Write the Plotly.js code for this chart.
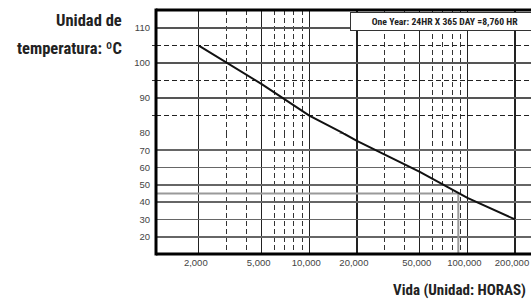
<!DOCTYPE html>
<html><head><meta charset="utf-8">
<script src="https://cdn.plot.ly/plotly-3.0.1.min.js"></script>
<style>html,body{margin:0;padding:0;background:#fff;}#chart{width:531px;height:302px;}</style>
</head><body><div id="chart"></div>
<script>
// ---- data ----
const lifeHours = [2000, 5000, 10000, 16300, 20000, 50000, 100000, 200000];
const temperatureC = [105, 94, 85, 80, 75.5, 57.5, 42.5, 30];

const hoursPerYear = 8760;
const markerYears = 10;
const markerTemp = 45;

const xMajorTicks = [2000, 5000, 10000, 20000, 50000, 100000, 200000];
const xTickLabels = ['2,000', '5,000', '10,000', '20,000', '50,000', '100,000', '200,000'];
const xMinorTicks = [3000, 4000, 6000, 7000, 8000, 9000, 30000, 40000, 60000, 70000, 80000, 90000];
const yUpperTicks = [90, 100, 110];
const yUpperMinor = [85, 95, 105];
const yLowerTicks = [20, 30, 40, 50, 60, 70, 80];

const yTitleLines = ['Unidad de', 'temperatura: ºC'];
const xTitle = 'Vida (Unidad: HORAS)';
const noteText = 'One Year: 24HR X 365 DAY =8,760 HR';

// ---- layout ----
const xRange = [3.0303, 5.4022];      // log10 range
const upperRange = [80, 115.2];
const lowerRange = [10, 80];
const split = 0.4959;

const condensed = '"Roboto Condensed", "Liberation Sans Narrow", Roboto, sans-serif';
const tickFont = {family: '"Liberation Sans", Arial, sans-serif', size: 9.5, color: '#444'};

const markerHours = hoursPerYear * markerYears;
const xLeft = Math.pow(10, xRange[0]);

const lineStyle = {color: '#111', width: 2};
const traces = [
  {x: [xLeft, markerHours, markerHours], y: [markerTemp, markerTemp, lowerRange[0]], xaxis: 'x', yaxis: 'y',
   mode: 'lines', line: {color: '#9a9a9a', width: 2}, hoverinfo: 'skip'},
  {x: lifeHours, y: temperatureC, xaxis: 'x', yaxis: 'y', mode: 'lines', line: lineStyle, hoverinfo: 'skip'},
  {x: lifeHours, y: temperatureC, xaxis: 'x', yaxis: 'y2', mode: 'lines', line: lineStyle, hoverinfo: 'skip'}
];

const layout = {
  width: 531, height: 302,
  margin: {l: 156, r: 0, t: 10, b: 48},
  paper_bgcolor: '#fff', plot_bgcolor: '#fff',
  showlegend: false,
  xaxis: {
    type: 'log', range: xRange, domain: [0, 1], anchor: 'y',
    tickmode: 'array', tickvals: xMajorTicks, ticktext: xTickLabels,
    tickfont: tickFont, ticks: '', ticklabelstandoff: 1, ticklabelshift: -3, ticklabeloverflow: 'allow',
    showgrid: true, gridcolor: '#222', gridwidth: 1.3,
    minor: {tickmode: 'array', tickvals: xMinorTicks, showgrid: true, gridcolor: '#333', gridwidth: 1, griddash: '5px,3px', ticks: ''},
    showline: false, zeroline: false, fixedrange: true
  },
  yaxis: {
    range: lowerRange, domain: [0, split], anchor: 'x',
    tickmode: 'array', tickvals: yLowerTicks, tickfont: tickFont, ticks: '', ticklabelstandoff: 5,
    showgrid: true, gridcolor: '#666', gridwidth: 1.8, showline: false, zeroline: false, fixedrange: true
  },
  yaxis2: {
    range: upperRange, domain: [split, 1], anchor: 'x',
    tickmode: 'array', tickvals: yUpperTicks, tickfont: tickFont, ticks: '', ticklabelstandoff: 5,
    showgrid: true, gridcolor: '#555', gridwidth: 1.8,
    minor: {tickmode: 'array', tickvals: yUpperMinor, showgrid: true, gridcolor: '#222', gridwidth: 1, griddash: '5px,3px', ticks: 'outside', ticklen: 3, tickcolor: '#333'},
    showline: false, zeroline: false, fixedrange: true
  },
  shapes: [
    {type: 'line', xref: 'paper', yref: 'paper', x0: 0, x1: 1.02, y0: 1, y1: 1, line: {color: '#000', width: 3}},
    {type: 'line', xref: 'paper', yref: 'paper', x0: 0, x1: 0, y0: -0.006, y1: 1.006, line: {color: '#000', width: 3}},
    {type: 'line', xref: 'paper', yref: 'paper', x0: 0, x1: 1.02, y0: 0, y1: 0, line: {color: '#000', width: 3}}
  ],
  annotations: [
    {text: '<b>' + yTitleLines[0] + '</b>', xref: 'paper', yref: 'paper', x: -0.085, y: 0.955, xanchor: 'right', yanchor: 'middle',
     showarrow: false, font: {family: condensed, size: 16.5, color: '#222'}},
    {text: '<b>' + yTitleLines[1] + '</b>', xref: 'paper', yref: 'paper', x: -0.085, y: 0.842, xanchor: 'right', yanchor: 'middle',
     showarrow: false, font: {family: condensed, size: 16.5, color: '#222'}},
    {text: '<b>' + xTitle + '</b>', xref: 'paper', yref: 'paper', x: 0.993, y: -0.148, xanchor: 'right', yanchor: 'middle',
     showarrow: false, font: {family: condensed, size: 15, color: '#222'}},
    {text: '<b>' + noteText + '</b>', xref: 'paper', yref: 'paper', x: 0.5173, y: 0.992, xanchor: 'left', yanchor: 'top',
     showarrow: false, width: 182, align: 'center', bgcolor: '#fff', bordercolor: '#333', borderwidth: 1, borderpad: 3,
     font: {family: condensed, size: 9.7, color: '#222'}}
  ]
};

Plotly.newPlot('chart', traces, layout, {staticPlot: true, displayModeBar: false});
</script>
</body></html>
